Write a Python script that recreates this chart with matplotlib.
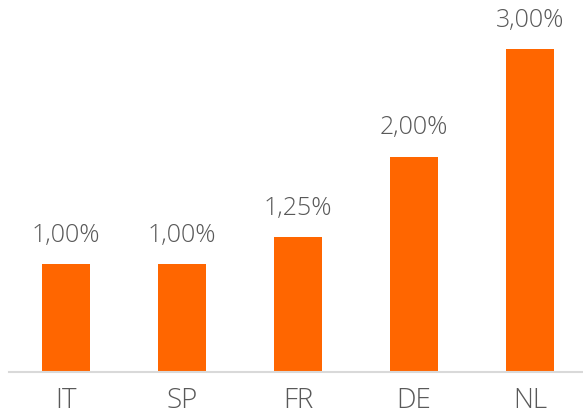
import matplotlib.pyplot as plt

countries = ["IT", "SP", "FR", "DE", "NL"]
rates = [1.00, 1.00, 1.25, 2.00, 3.00]

W, H = 583, 416
fig = plt.figure(figsize=(W / 100, H / 100), dpi=100)
ax = fig.add_axes([9 / W, 44 / H, 574 / W, 372 / H])

x = range(len(countries))
bars = ax.bar(x, rates, width=0.41, color="#FF6600")

# value labels with comma as decimal separator
for b, v in zip(bars, rates):
    ax.annotate(f"{v:.2f}%".replace(".", ","),
                (b.get_x() + b.get_width() / 2, v),
                xytext=(0, 16), textcoords="offset points",
                ha="center", va="baseline", fontsize=18,
                color="#595959", family="Open Sans", weight="light")

ax.set_xlim(-0.49, 4.457)
ax.set_ylim(0, 3.454)
ax.set_xticks(list(x))
ax.set_xticklabels(countries, fontsize=20, color="#595959",
                   family="Open Sans", weight="light")
ax.tick_params(axis="x", length=0, pad=11)
ax.set_yticks([])

for side in ["top", "right", "left"]:
    ax.spines[side].set_visible(False)
ax.spines["bottom"].set_color("#D9D9D9")
ax.spines["bottom"].set_linewidth(1.5)

fig.savefig("out.png", dpi=100)
